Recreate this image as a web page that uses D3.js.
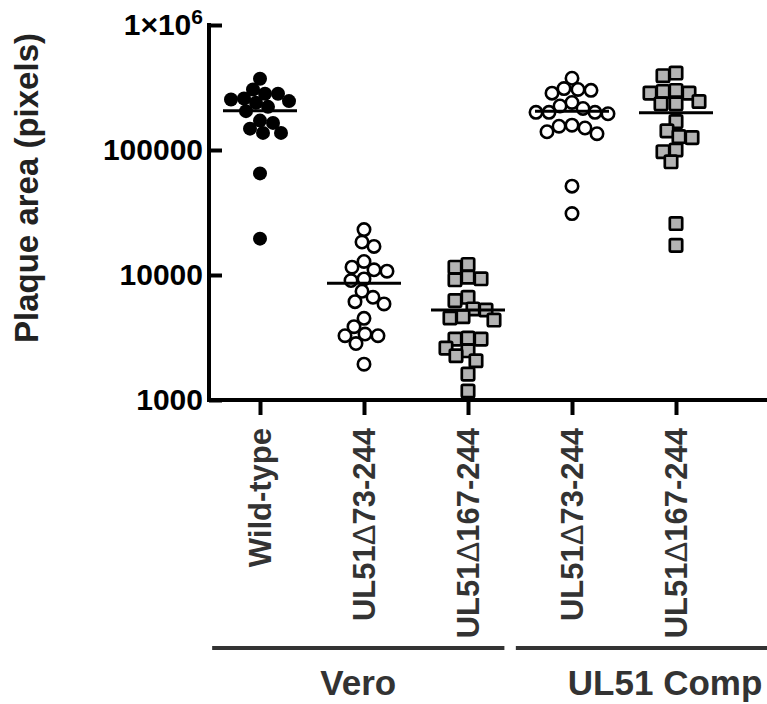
<!DOCTYPE html>
<html lang="en">
<head>
<meta charset="UTF-8">
<title>Plaque area</title>
<script src="https://cdnjs.cloudflare.com/ajax/libs/d3/7.8.5/d3.min.js"></script>
<style>
  body { margin: 0; background: #fff; }
  text { font-family: "Liberation Sans", Arial, Helvetica, sans-serif; font-weight: bold; }
</style>
</head>
<body>
<svg id="chart" width="767" height="704"></svg>
<script>
  // groups along the x axis
  const categories = ['Wild-type', 'UL51\u039473-244', 'UL51\u0394167-244', 'UL51\u039473-244', 'UL51\u0394167-244'];
  const cellLines = ['Vero', 'UL51 Comp'];
  const cellOfGroup = [0, 0, 0, 1, 1];
  const yTicks = [1000, 10000, 100000, 1000000];

  // plaque areas (pixels)
  const wildType = [371500, 281700, 258300, 246100, 238600, 253600, 281700, 304900, 221400,
    204600, 171900, 164800, 148200, 137000, 137000, 65000, 19540];
  const d73Vero = [23070, 16940, 18350, 12830, 11010, 11550, 10730, 9310, 9030, 7410, 6630,
    5870, 6120, 4500, 3860, 3270, 3270, 3370, 2830, 1935];
  const d167Vero = [11550, 12150, 9320, 9150, 9600, 6240, 6630, 5250, 5350, 4640, 4360, 4530,
    3070, 3070, 3130, 2600, 2475, 2260, 2060, 1610, 1180];
  const d73Comp = [375000, 310000, 305000, 300000, 285000, 240000, 215000, 225000, 200000,
    195000, 200000, 200000, 158000, 150000, 140000, 135000, 155000, 51400, 31000];
  const d167Comp = [392900, 412700, 294000, 299500, 285100, 285100, 234100, 234100, 244400,
    168800, 142200, 125700, 128000, 100000, 96900, 80500, 25800, 17260];

  const series = [wildType, d73Vero, d167Vero, d73Comp, d167Comp];
  const markStyle = ['filled', 'open', 'square', 'open', 'square'];

  const svg = d3.select('#chart');

  const x = d3.scalePoint()
    .domain(d3.range(categories.length))
    .range([260, 676]);
  const step = x.step();

  const y = d3.scaleLog()
    .domain([1000, 1000000])
    .range([400, 25]);

  // simple beeswarm: nearest free horizontal slot, a little overlap allowed
  function swarm(values, minDist) {
    const pts = values.map(v => ({ v: v, py: y(v), dx: 0 }))
      .sort((a, b) => a.py - b.py);
    const placed = [];
    pts.forEach(p => {
      for (let k = 0; k < 80; k++) {
        const off = k % 2 === 0 ? k / 2 : -(k + 1) / 2;
        const ok = placed.every(q => (off - q.dx) ** 2 + (p.py - q.py) ** 2 >= minDist * minDist);
        if (ok) { p.dx = off; break; }
      }
      placed.push(p);
    });
    return pts;
  }

  // axes
  const yAxis = d3.axisLeft(y)
    .tickValues(yTicks)
    .tickSizeInner(-13)
    .tickSizeOuter(0)
    .tickPadding(20)
    .tickFormat(d => d === 1000000 ? '' : d3.format('d')(d));

  const gy = svg.append('g')
    .attr('transform', 'translate(209,0)')
    .call(yAxis);
  gy.select('.domain').remove();
  gy.selectAll('.tick line').attr('stroke', '#000').attr('stroke-width', 4);
  gy.selectAll('.tick text')
    .attr('fill', '#000')
    .attr('font-size', 30)
    .attr('x', -6);
  gy.selectAll('.tick')
    .filter(d => d === 1000000)
    .select('text')
    .call(t => {
      t.append('tspan').text('1\u00d710');
      t.append('tspan').attr('font-size', 21).attr('dy', '-0.55em').text('6');
    });

  svg.append('line')
    .attr('x1', 209).attr('x2', 209)
    .attr('y1', 23).attr('y2', 402)
    .attr('stroke', '#000').attr('stroke-width', 4);

  const xAxis = d3.axisBottom(x)
    .tickSizeInner(15)
    .tickSizeOuter(0)
    .tickFormat('');
  const gx = svg.append('g')
    .attr('transform', 'translate(0,400)')
    .call(xAxis);
  gx.select('.domain').remove();
  gx.selectAll('.tick line').attr('stroke', '#000').attr('stroke-width', 4);

  svg.append('line')
    .attr('x1', 207).attr('x2', 767)
    .attr('y1', 400).attr('y2', 400)
    .attr('stroke', '#000').attr('stroke-width', 4);

  // rotated category labels
  const labels = svg.append('g').selectAll('text')
    .data(categories)
    .join('text')
    .attr('transform', (d, i) => `translate(${x(i) + 11},428) rotate(-90)`)
    .attr('text-anchor', 'end')
    .attr('font-size', 31)
    .attr('fill', '#333');
  labels.each(function (d) {
    const parts = d.split('\u0394');
    const t = d3.select(this);
    t.append('tspan').text(parts[0]);
    if (parts.length > 1) {
      t.append('tspan').attr('font-weight', 'normal').text('\u0394');
      t.append('tspan').text(parts[1]);
    }
  });

  // cell line brackets
  const cellSpan = cellLines.map((name, c) => {
    const idx = cellOfGroup.map((g, i) => g === c ? i : -1).filter(i => i >= 0);
    const x0 = c === 0 ? x(idx[0]) - step * 0.46 : x(idx[0]) - step * 0.54;
    const x1 = c === 0 ? x(idx[idx.length - 1]) + step * 0.35 : x(idx[idx.length - 1]) + step * 1.33;
    return { name, x0, x1 };
  });
  svg.append('g').selectAll('line')
    .data(cellSpan)
    .join('line')
    .attr('x1', d => d.x0).attr('x2', d => d.x1)
    .attr('y1', 648).attr('y2', 648)
    .attr('stroke', '#333').attr('stroke-width', 4);
  svg.append('g').selectAll('text')
    .data(cellSpan)
    .join('text')
    .attr('x', d => (d.x0 + d.x1) / 2)
    .attr('y', 695)
    .attr('text-anchor', 'middle')
    .attr('font-size', 35)
    .attr('fill', '#333')
    .text(d => d.name);

  // y axis title
  svg.append('text')
    .attr('transform', 'translate(38,188) rotate(-90)')
    .attr('text-anchor', 'middle')
    .attr('font-size', 33)
    .attr('fill', '#222')
    .text('Plaque area (pixels)');

  // points
  series.forEach((vals, i) => {
    const pts = swarm(vals, 12.5);
    const g = svg.append('g');
    const cx = x(i);
    if (markStyle[i] === 'square') {
      g.selectAll('rect')
        .data(pts)
        .join('rect')
        .attr('x', d => cx + d.dx - 6.2)
        .attr('y', d => d.py - 6.2)
        .attr('width', 12.4).attr('height', 12.4)
        .attr('rx', 1.5)
        .attr('fill', '#b3b3b3')
        .attr('stroke', '#000')
        .attr('stroke-width', 2.7);
    } else {
      g.selectAll('circle')
        .data(pts)
        .join('circle')
        .attr('cx', d => cx + d.dx)
        .attr('cy', d => d.py)
        .attr('r', markStyle[i] === 'filled' ? 7 : 6.2)
        .attr('fill', markStyle[i] === 'filled' ? '#000' : '#fff')
        .attr('stroke', markStyle[i] === 'filled' ? 'none' : '#000')
        .attr('stroke-width', 2.6);
    }
    const m = d3.mean(vals);
    g.append('line')
      .attr('x1', cx - 37).attr('x2', cx + 37)
      .attr('y1', y(m)).attr('y2', y(m))
      .attr('stroke', '#000').attr('stroke-width', 3);
  });
</script>
</body>
</html>
